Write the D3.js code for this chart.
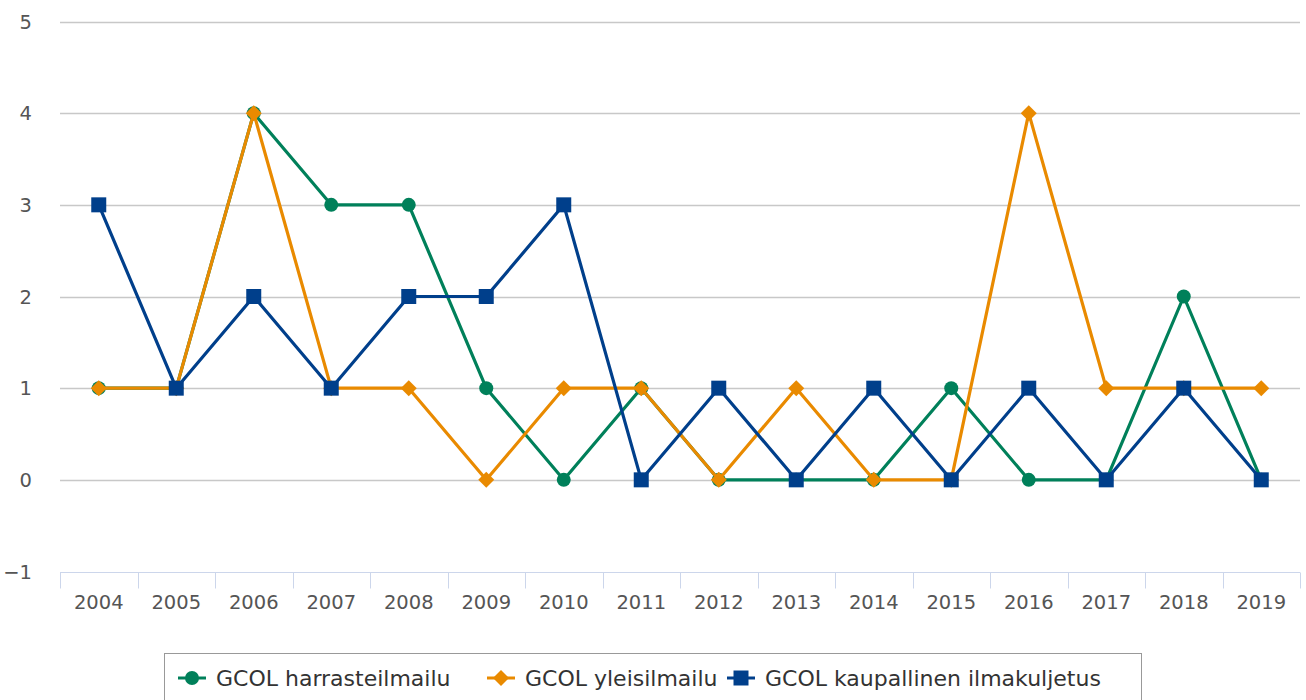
<!DOCTYPE html>
<html>
<head>
<meta charset="utf-8">
<script src="https://cdn.jsdelivr.net/npm/d3@7"></script>
<style>
  body { margin: 0; background: #fff; }
  svg { display: block; font-family: "DejaVu Sans", sans-serif; }
</style>
</head>
<body>
<div id="chart"></div>
<script>
// values
const years = ["2004", "2005", "2006", "2007", "2008", "2009", "2010", "2011",
    "2012", "2013", "2014", "2015", "2016", "2017", "2018", "2019"];
const harrasteilmailu = [1, 1, 4, 3, 3, 1, 0, 1, 0, 0, 0, 1, 0, 0, 2, 0];
const yleisilmailu = [1, 1, 4, 1, 1, 0, 1, 1, 0, 1, 0, 0, 4, 1, 1, 1];
const kaupallinen = [3, 1, 2, 1, 2, 2, 3, 0, 1, 0, 1, 0, 1, 0, 1, 0];
const yTicks = [-1, 0, 1, 2, 3, 4, 5];

const series = [
    { name: "GCOL harrasteilmailu", values: harrasteilmailu, color: "#00805a", symbol: "circle" },
    { name: "GCOL yleisilmailu", values: yleisilmailu, color: "#e98a00", symbol: "diamond" },
    { name: "GCOL kaupallinen ilmakuljetus", values: kaupallinen, color: "#003f8b", symbol: "square" }
];

const width = 1306, height = 700;
const margin = { left: 60, right: 6, top: 21.5, bottom: 128.5 };

const svg = d3.select("#chart").append("svg")
    .attr("width", width)
    .attr("height", height);

const x = d3.scaleBand()
    .domain(years)
    .range([margin.left, width - margin.right]);

const y = d3.scaleLinear()
    .domain([-1, 5])
    .range([height - margin.bottom, margin.top]);

// grid lines
svg.append("g")
    .selectAll("line")
    .data(yTicks.filter(d => d > -1))
    .join("line")
    .attr("x1", margin.left)
    .attr("x2", width - margin.right)
    .attr("y1", d => Math.round(y(d)) + 0.5)
    .attr("y2", d => Math.round(y(d)) + 0.5)
    .attr("stroke", "#c8c8c8")
    .attr("stroke-width", 1.5);

// y labels
svg.append("g")
    .selectAll("text")
    .data(yTicks)
    .join("text")
    .attr("x", 32)
    .attr("y", d => y(d))
    .attr("dy", "0.36em")
    .attr("text-anchor", "end")
    .attr("fill", "#555")
    .attr("font-size", 19.5)
    .text(d => d < 0 ? "\u2212" + Math.abs(d) : d);

// x axis
const xAxis = svg.append("g");
const axisY = Math.round(y(-1)) + 0.5;
xAxis.append("line")
    .attr("x1", margin.left)
    .attr("x2", width - margin.right)
    .attr("y1", axisY)
    .attr("y2", axisY)
    .attr("stroke", "#ccd6eb");

const tickPos = years.map(d => x(d)).concat([x(years[years.length - 1]) + x.bandwidth()]);
xAxis.selectAll("line.tick")
    .data(tickPos)
    .join("line")
    .attr("class", "tick")
    .attr("x1", d => Math.round(d) + 0.5)
    .attr("x2", d => Math.round(d) + 0.5)
    .attr("y1", axisY)
    .attr("y2", axisY + 16)
    .attr("stroke", "#ccd6eb");

xAxis.selectAll("text")
    .data(years)
    .join("text")
    .attr("x", d => x(d) + x.bandwidth() / 2)
    .attr("y", axisY + 29)
    .attr("dy", "0.36em")
    .attr("text-anchor", "middle")
    .attr("fill", "#555")
    .attr("font-size", 19.5)
    .text(d => d);

const line = d3.line()
    .x((d, i) => x(years[i]) + x.bandwidth() / 2)
    .y(d => y(d));

function symbolPath(kind) {
    if (kind === "circle") return d3.symbol(d3.symbolCircle, Math.PI * 7 * 7)();
    if (kind === "square") return d3.symbol(d3.symbolSquare, 15 * 15)();
    return "M0,-8L8,0L0,8L-8,0Z";
}

series.forEach(s => {
    const g = svg.append("g");
    g.append("path")
        .attr("d", line(s.values))
        .attr("fill", "none")
        .attr("stroke", s.color)
        .attr("stroke-width", 3.2)
        .attr("stroke-linejoin", "round");
    g.selectAll("path.marker")
        .data(s.values)
        .join("path")
        .attr("class", "marker")
        .attr("d", symbolPath(s.symbol))
        .attr("transform", (d, i) => `translate(${x(years[i]) + x.bandwidth() / 2},${y(d)})`)
        .attr("fill", s.color);
});

// legend
const legend = svg.append("g");
legend.append("rect")
    .attr("x", 164.5)
    .attr("y", 653.5)
    .attr("width", 977)
    .attr("height", 70)
    .attr("fill", "none")
    .attr("stroke", "#999");

const legendX = [178, 487, 727];
series.forEach((s, i) => {
    const item = legend.append("g")
        .attr("transform", `translate(${legendX[i]},678)`);
    item.append("line")
        .attr("x1", 0)
        .attr("x2", 28)
        .attr("stroke", s.color)
        .attr("stroke-width", 3);
    item.append("path")
        .attr("d", symbolPath(s.symbol))
        .attr("transform", "translate(14,0)")
        .attr("fill", s.color);
    item.append("text")
        .attr("x", 38)
        .attr("dy", "0.36em")
        .attr("fill", "#333")
        .attr("font-size", 22)
        .text(s.name);
});
</script>
</body>
</html>
